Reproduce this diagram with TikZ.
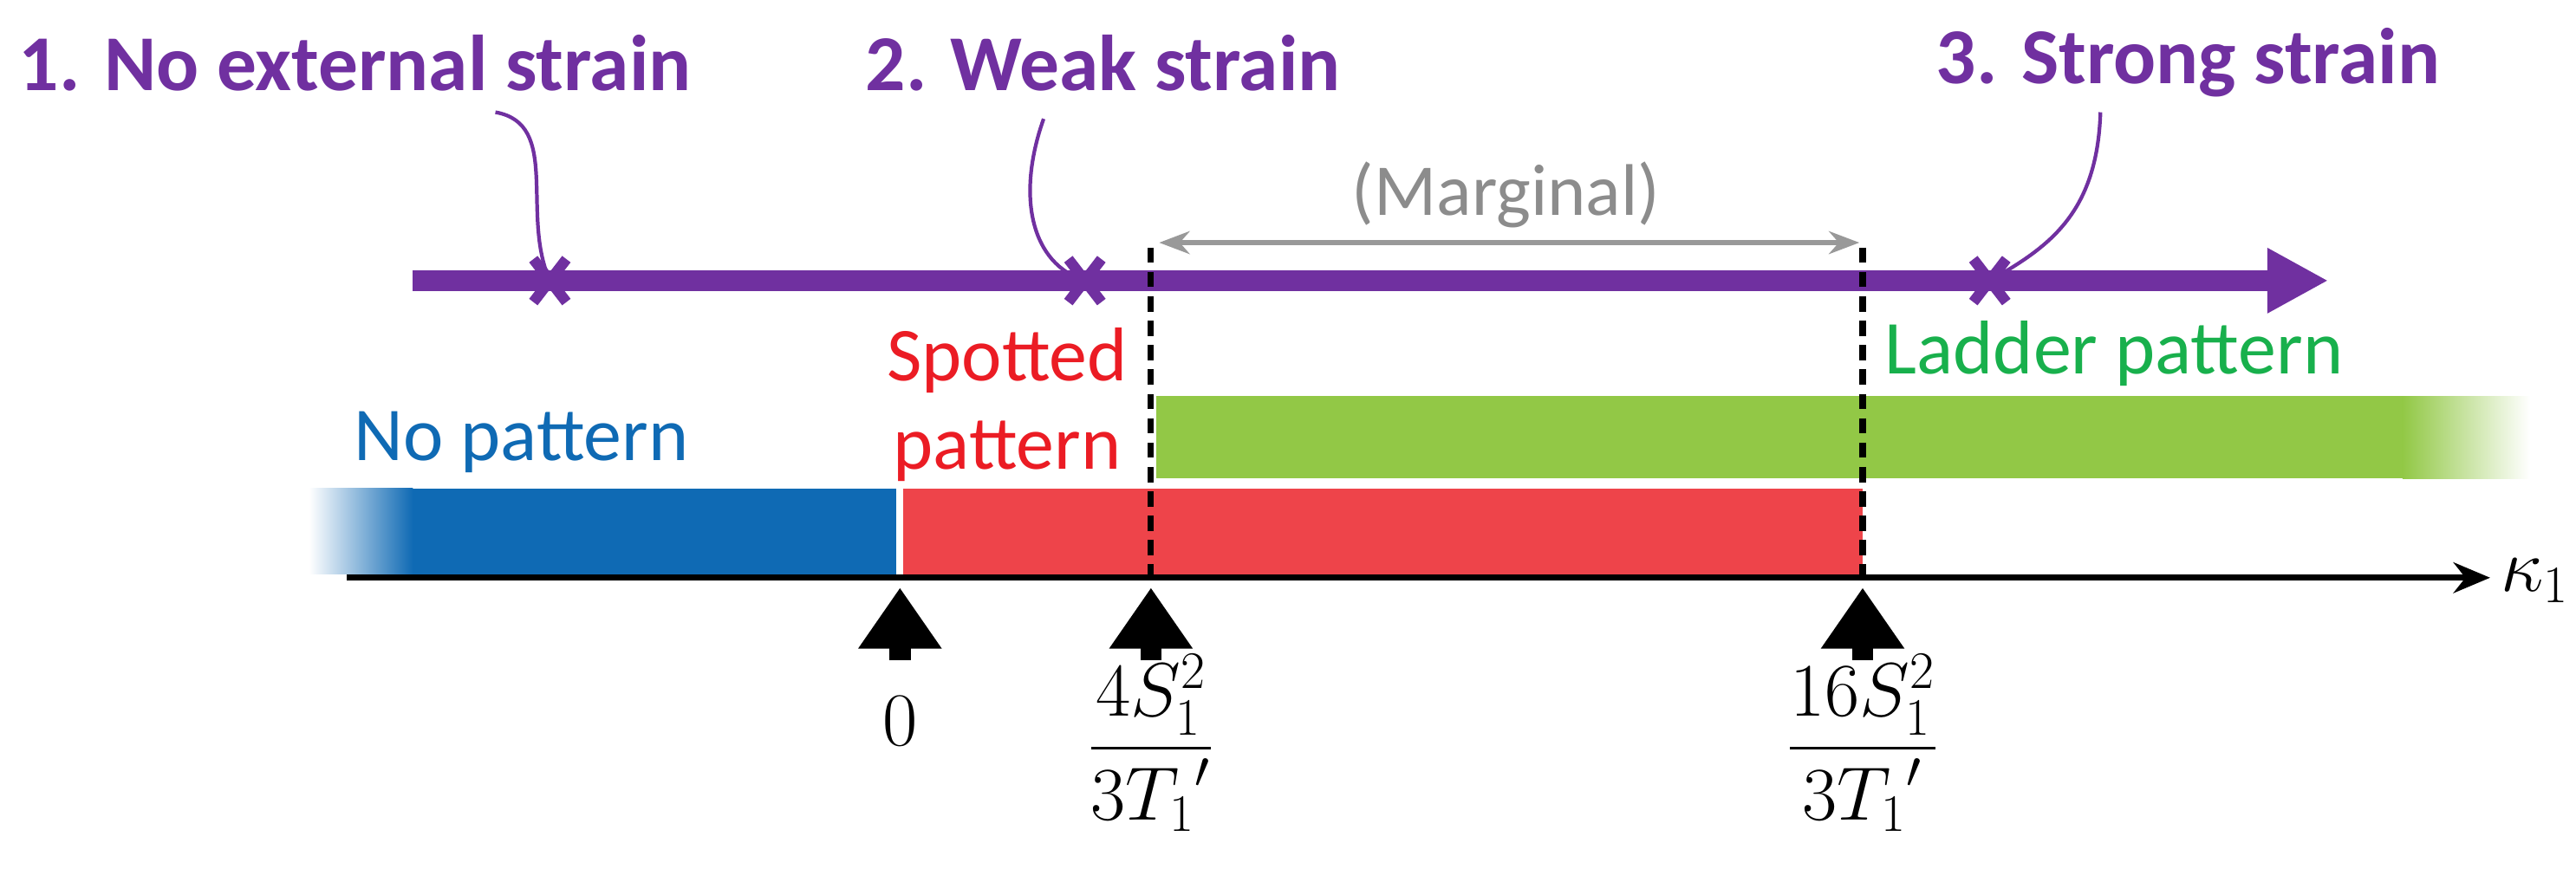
\documentclass[tikz,border=0pt]{standalone}
\usepackage{amsmath}
\usepackage{fontspec}
\setmainfont{Carlito}
\usetikzlibrary{arrows.meta,calc}
\definecolor{pur}{RGB}{112,48,160}
\definecolor{bl}{RGB}{15,106,180}
\definecolor{rd}{RGB}{238,68,74}
\definecolor{gr}{RGB}{146,200,70}
\definecolor{grt}{RGB}{24,176,76}
\definecolor{rdt}{RGB}{235,28,36}
\begin{document}
\begin{tikzpicture}[x=0.01905cm,y=-0.01905cm,
 lab/.style={text=pur,font=\fontsize{26}{30}\selectfont\bfseries,anchor=center},
 cur/.style={draw=pur,line width=1.2pt},
 xm/.style={pur,line width=3.5pt},
 upar/.style={-{Triangle[length=20pt,width=26pt]},line width=7pt,black},
 big/.style={font=\fontsize{25}{29}\selectfont}]
\useasboundingbox (0,0) rectangle (1560,542);
% bars
\fill[bl] (250,296) rectangle (543,348);
\shade[left color=white,right color=bl] (187,296) rectangle (250,348);
\fill[rd] (547,296) rectangle (1128,348);
\fill[gr] (700,240) rectangle (1455,290);
\shade[left color=gr,right color=white] (1455,240) rectangle (1532,290);
% purple arrow
\coordinate (ps) at (250,170); \coordinate (pe) at (1410,170);
\draw[pur,line width=7pt,-{Triangle[length=20pt,width=20pt]}] (ps) -- (pe);
\foreach \n/\x in {x1/333,x2/657,x3/1205}{
 \coordinate (\n) at (\x,170);
 \draw[xm] ($(\n)+(-10,-13)$) -- ($(\n)+(10,13)$) ($(\n)+(-10,13)$) -- ($(\n)+(10,-13)$);}
% labels
\node[lab] (l1) at (215,38) {1. No external strain};
\node[lab] (l2) at (668,38) {2. Weak strain};
\node[lab] (l3) at (1325,38) {3. Strong strain};
\draw[cur] (300,68) .. controls (340,75) and (315,130) .. (x1);
\draw[cur] (632,72) .. controls (615,120) and (625,160) .. (x2);
\draw[cur] (1272,68) .. controls (1270,130) and (1240,150) .. (x3);
% dashed
\coordinate (d1t) at (697,150); \coordinate (d1b) at (697,350);
\coordinate (d2t) at (1128,150); \coordinate (d2b) at (1128,350);
\draw[line width=2pt,dash pattern=on 5pt off 3pt] (d1t) -- (d1b) (d2t) -- (d2b);
\coordinate (m1) at (702,147); \coordinate (m2) at (1126,147);
\draw[gray!80,line width=1.5pt,{Stealth[length=10pt]}-{Stealth[length=10pt]}] (m1) -- (m2);
\node[text=gray!90,font=\fontsize{24}{28}\selectfont] (marg) at (912,118) {(Marginal)};
% texts
\node[text=bl,big,anchor=west] (np) at (208,268) {No pattern};
\node[text=rdt,big,align=center] (sp) at (610,245) {Spotted\\pattern};
\node[text=grt,big,anchor=west] (lp) at (1135,214) {Ladder pattern};
% axis
\coordinate (a0) at (210,350); \coordinate (a1) at (1508,350);
\draw[line width=2pt,-{Stealth[length=12pt,width=10pt]}] (a0) -- (a1);
\node[font=\fontsize{24}{28}\selectfont,anchor=west] (k) at (1508,352) {$\kappa_1$};
% up arrows
\foreach \n/\x in {u1/545,u2/697,u3/1128}{
 \coordinate (\n b) at (\x,400); \coordinate (\n t) at (\x,356);
 \draw[upar] (\n b) -- (\n t);}
\node[big] (z) at (545,437) {$0$};
\node[big] (f1) at (697,450) {$\dfrac{4S_1^2}{3{T_1}'}$};
\node[big] (f2) at (1128,450) {$\dfrac{16S_1^2}{3{T_1}'}$};
\end{tikzpicture}
\end{document}
